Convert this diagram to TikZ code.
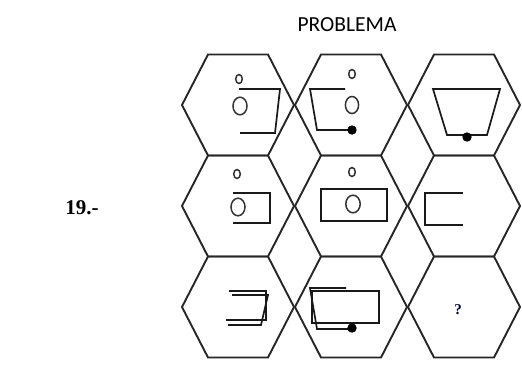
\documentclass[tikz,border=0pt]{standalone}
\usepackage{fontspec}
\setmainfont{Liberation Serif}
\newfontfamily\calibrifont{Carlito}
\begin{document}
\begin{tikzpicture}[x=1pt,y=-1pt,
  hexline/.style={draw=black!85,line width=1.9pt,line join=miter},
  fig/.style={draw=black!90,line width=1.7pt},
  ring/.style={draw=black!80,line width=1.5pt},
  blob/.style={fill=black}]
\useasboundingbox (0,0) rectangle (522,365);
% hexagons
\foreach \cx/\cy/\nm in {238/105/h1,351/105/h2,464/105/h3,238/206/h4,351/206/h5,464/206/h6,238/307/h7,351/307/h8,464/307/h9}{
  \draw[hexline] (\cx-30,\cy-50.5) -- (\cx+30,\cy-50.5) -- (\cx+56,\cy) -- (\cx+30,\cy+50.5) -- (\cx-30,\cy+50.5) -- (\cx-56,\cy) -- cycle;
  \coordinate (\nm) at (\cx,\cy);
}
% texts
\node[font=\calibrifont\fontsize{21.5}{24}\selectfont] (title) at (347,25) {PROBLEMA};
\node[font=\bfseries\fontsize{21}{24}\selectfont] (num) at (82,208) {19.-};
\node[font=\bfseries\fontsize{15}{17}\selectfont,text=black!75!blue] (q) at (458,310) {?};
% cell 1
\draw[ring] (239,79) ellipse (3.3 and 4.5);
\draw[ring] (240,106) ellipse (7 and 8.8);
\draw[fig] (239,89) -- (280,89) -- (275,133) -- (240,133);
% cell 2
\draw[ring] (352,74) ellipse (3.3 and 4.5);
\draw[ring] (352,105) ellipse (6.6 and 8.5);
\draw[fig] (345,89) -- (310,89) -- (317,130) -- (352,130);
\fill[blob] (352,130) circle (4.7);
% cell 3
\draw[fig] (433,89) -- (500,89) -- (487,135) -- (447,135) -- cycle;
\fill[blob] (467,137) circle (4.7);
% cell 4
\draw[ring] (237,174) ellipse (3.3 and 4.5);
\draw[ring] (238,207) ellipse (7 and 8.8);
\draw[fig] (233,193) -- (270,193) -- (270,223) -- (233,223);
% cell 5
\draw[ring] (352,172) ellipse (3.3 and 4.5);
\draw[fig] (321,189) rectangle (387,221);
\draw[ring] (353,204) ellipse (7.2 and 8.8);
% cell 6
\draw[fig] (463,193) -- (425,193) -- (425,225) -- (463,225);
% cell 7
\draw[fig] (229,291) -- (266,291) -- (266,320) -- (226,320);
\draw[fig] (232,295) -- (268,295) -- (261,325) -- (228,325);
% cell 8
\draw[fig] (312,291) rectangle (379,323);
\draw[fig] (346,288) -- (310,288) -- (317,329) -- (352,329);
\fill[blob] (352,328) circle (4.7);
\end{tikzpicture}
\end{document}
